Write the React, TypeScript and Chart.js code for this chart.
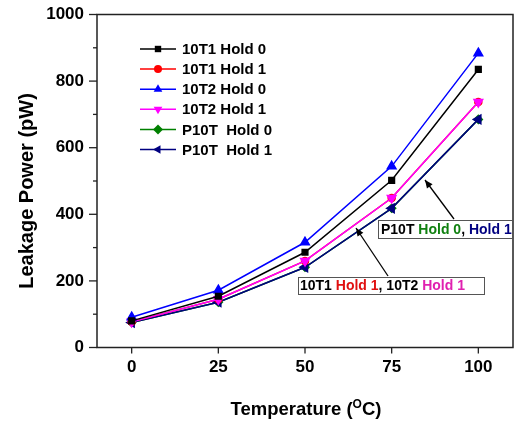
import React, { useEffect, useRef } from 'react';
import { Chart, registerables } from 'chart.js';
Chart.register(...registerables);

const temperatures = [0, 25, 50, 75, 100];
const t1Hold0 = [80, 154, 286, 502, 835];
const t1Hold1 = [77, 145, 260, 449, 737];
const t2Hold0 = [91, 172, 316, 544, 884];
const t2Hold1 = [77, 145, 260, 449, 737];
const p10tHold0 = [75, 136, 241, 418, 685];
const p10tHold1 = [75, 136, 241, 418, 685];
const xTickValues = [0, 25, 50, 75, 100];
const yTickValues = [0, 100, 200, 300, 400, 500, 600, 700, 800, 900, 1000];
const seriesLabels = ['10T1 Hold 0', '10T1 Hold 1', '10T2 Hold 0', '10T2 Hold 1', 'P10T  Hold 0', 'P10T  Hold 1'];

const FONT = 'Arial, "Liberation Sans", sans-serif';

type Style = { color: string; pointStyle: string; rotation: number; radius: number; order: number };
const styles: Style[] = [
  { color: '#000000', pointStyle: 'rect', rotation: 0, radius: 4, order: 0 },
  { color: '#ff0000', pointStyle: 'circle', rotation: 0, radius: 3.5, order: 3 },
  { color: '#0000ff', pointStyle: 'triangle', rotation: 0, radius: 5, order: 1 },
  { color: '#ff00ff', pointStyle: 'triangle', rotation: 180, radius: 5, order: 2 },
  { color: '#008000', pointStyle: 'rectRot', rotation: 0, radius: 4, order: 5 },
  { color: '#000080', pointStyle: 'triangle', rotation: 270, radius: 5, order: 4 },
];
const legendRadius = [4, 4, 5, 5, 5, 5];
const seriesData = [t1Hold0, t1Hold1, t2Hold0, t2Hold1, p10tHold0, p10tHold1];

function drawRich(ctx: CanvasRenderingContext2D, x: number, y: number, parts: [string, string][]) {
  let cx = x;
  for (const [txt, col] of parts) {
    ctx.fillStyle = col;
    ctx.fillText(txt, cx, y);
    cx += ctx.measureText(txt).width;
  }
}

function arrow(ctx: CanvasRenderingContext2D, x1: number, y1: number, x2: number, y2: number) {
  ctx.save();
  ctx.strokeStyle = '#000';
  ctx.fillStyle = '#000';
  ctx.lineWidth = 1.3;
  ctx.beginPath();
  ctx.moveTo(x1, y1);
  ctx.lineTo(x2, y2);
  ctx.stroke();
  const a = Math.atan2(y2 - y1, x2 - x1);
  const L = 8, W = 3.5;
  ctx.beginPath();
  ctx.moveTo(x2, y2);
  ctx.lineTo(x2 - L * Math.cos(a) + W * Math.sin(a), y2 - L * Math.sin(a) - W * Math.cos(a));
  ctx.lineTo(x2 - L * Math.cos(a) - W * Math.sin(a), y2 - L * Math.sin(a) + W * Math.cos(a));
  ctx.closePath();
  ctx.fill();
  ctx.restore();
}

function drawPointSimple(ctx: CanvasRenderingContext2D, st: Style, r: number, x: number, y: number) {
  ctx.save();
  ctx.translate(x, y);
  ctx.rotate((st.rotation * Math.PI) / 180);
  ctx.beginPath();
  if (st.pointStyle === 'rect') {
    ctx.rect(-r * 0.8, -r * 0.8, r * 1.6, r * 1.6);
  } else if (st.pointStyle === 'circle') {
    ctx.arc(0, 0, r, 0, Math.PI * 2);
  } else if (st.pointStyle === 'rectRot') {
    ctx.moveTo(0, -r); ctx.lineTo(r, 0); ctx.lineTo(0, r); ctx.lineTo(-r, 0); ctx.closePath();
  } else {
    const h = r * 1.5;
    ctx.moveTo(0, -h * 2 / 3);
    ctx.lineTo(r * 0.87, h / 3);
    ctx.lineTo(-r * 0.87, h / 3);
    ctx.closePath();
  }
  ctx.fill();
  ctx.restore();
}

const decorPlugin = {
  id: 'decor',
  afterDraw(chart: any) {
    const ctx: CanvasRenderingContext2D = chart.ctx;
    const { left, right, top, bottom } = chart.chartArea;
    const xs = chart.scales.x;
    const ys = chart.scales.y;
    ctx.save();
    ctx.strokeStyle = '#222';
    ctx.lineWidth = 1.5;
    ctx.strokeRect(left, top, right - left, bottom - top);
    ctx.lineWidth = 1.3;
    for (const v of yTickValues) {
      const py = ys.getPixelForValue(v);
      const len = v % 200 === 0 ? 8 : 4;
      ctx.beginPath();
      ctx.moveTo(left - len, py);
      ctx.lineTo(left, py);
      ctx.stroke();
    }
    for (const v of xTickValues) {
      const px = xs.getPixelForValue(v);
      ctx.beginPath();
      ctx.moveTo(px, bottom);
      ctx.lineTo(px, bottom + 6);
      ctx.stroke();
    }
    ctx.fillStyle = '#000';
    ctx.textBaseline = 'alphabetic';
    const big = `bold 18.5px ${FONT}`;
    const small = `bold 12px ${FONT}`;
    const p1 = 'Temperature (';
    const sup = 'O';
    const p2 = 'C)';
    ctx.font = big;
    const w1 = ctx.measureText(p1).width;
    const w3 = ctx.measureText(p2).width;
    ctx.font = small;
    const w2 = ctx.measureText(sup).width;
    const total = w1 + w2 + w3;
    const tx = 306 - total / 2;
    const by = 415;
    ctx.font = big;
    ctx.fillText(p1, tx, by);
    ctx.font = small;
    ctx.fillText(sup, tx + w1, by - 7);
    ctx.font = big;
    ctx.fillText(p2, tx + w1 + w2, by);

    ctx.save();
    ctx.translate(27, 191);
    ctx.rotate(-Math.PI / 2);
    ctx.textAlign = 'center';
    ctx.textBaseline = 'middle';
    ctx.font = `bold 20px ${FONT}`;
    ctx.fillText('Leakage Power (pW)', 0, 0);
    ctx.restore();

    ctx.font = `bold 15px ${FONT}`;
    ctx.textBaseline = 'middle';
    ctx.textAlign = 'left';
    seriesLabels.forEach((lab, i) => {
      const y = 49 + i * 20.1;
      const st = styles[i];
      ctx.strokeStyle = st.color;
      ctx.lineWidth = 1.5;
      ctx.beginPath();
      ctx.moveTo(140, y);
      ctx.lineTo(176, y);
      ctx.stroke();
      ctx.fillStyle = st.color;
      drawPointSimple(ctx, st, legendRadius[i], 158, y);
      ctx.fillStyle = '#000';
      ctx.fillText(lab, 182, y + 1);
    });

    ctx.font = `bold 14px ${FONT}`;
    ctx.textBaseline = 'middle';
    ctx.fillStyle = '#fff';
    ctx.fillRect(378, 220, 134, 18);
    ctx.strokeStyle = '#555';
    ctx.lineWidth = 1;
    ctx.strokeRect(378.5, 220.5, 134, 18);
    drawRich(ctx, 381, 230, [['P10T ', '#000'], ['Hold 0', '#108010'], [', ', '#000'], ['Hold 1', '#000080']]);
    ctx.fillStyle = '#fff';
    ctx.fillRect(298, 277, 186, 17);
    ctx.strokeStyle = '#555';
    ctx.strokeRect(298.5, 277.5, 186, 17);
    drawRich(ctx, 300, 286.5, [['10T1 ', '#000'], ['Hold 1', '#e01010'], [', 10T2 ', '#000'], ['Hold 1', '#e020b0']]);
    arrow(ctx, 454, 219, 425, 180);
    arrow(ctx, 388, 276, 356, 228);
    ctx.restore();
  },
};

export default function App() {
  const ref = useRef<HTMLCanvasElement | null>(null);
  useEffect(() => {
    if (!ref.current) return;
    const chart = new Chart(ref.current, {
      type: 'line',
      data: {
        datasets: seriesLabels.map((label, i) => ({
          label,
          data: temperatures.map((t, j) => ({ x: t, y: seriesData[i][j] })),
          borderColor: styles[i].color,
          backgroundColor: styles[i].color,
          pointBackgroundColor: styles[i].color,
          pointBorderColor: styles[i].color,
          pointStyle: styles[i].pointStyle as any,
          rotation: styles[i].rotation,
          pointRadius: styles[i].radius,
          borderWidth: 1.5,
          order: styles[i].order,
          tension: 0,
        })),
      },
      options: {
        animation: false,
        responsive: false,
        maintainAspectRatio: false,
        layout: { autoPadding: false, padding: { top: 14.5, right: 4, left: 0, bottom: 0 } },
        plugins: { legend: { display: false }, tooltip: { enabled: false }, title: { display: false } },
        scales: {
          x: {
            type: 'linear',
            min: -10,
            max: 110,
            afterBuildTicks: (s: any) => { s.ticks = xTickValues.map((v) => ({ value: v })); },
            afterFit: (s: any) => { s.height = 75.5; s.paddingLeft = 0; s.paddingRight = 0; },
            grid: { display: false, drawTicks: false },
            border: { display: false },
            ticks: { color: '#000', font: { family: FONT, size: 17, weight: 'bold' }, padding: 10, maxRotation: 0 },
          },
          y: {
            type: 'linear',
            min: 0,
            max: 1000,
            afterBuildTicks: (s: any) => { s.ticks = yTickValues.map((v) => ({ value: v })); },
            afterFit: (s: any) => { s.width = 97; s.paddingTop = 0; s.paddingBottom = 0; },
            grid: { display: false, drawTicks: false },
            border: { display: false },
            ticks: {
              color: '#000',
              font: { family: FONT, size: 17, weight: 'bold' },
              padding: 13,
              callback: (v: any) => (Number(v) % 200 === 0 ? String(v) : ''),
            },
          },
        },
      } as any,
      plugins: [decorPlugin],
    });
    return () => chart.destroy();
  }, []);
  return (
    <div style={{ position: 'absolute', left: 0, top: 0, width: 517, height: 423, background: '#fff' }}>
      <canvas ref={ref} width={517} height={423} style={{ width: 517, height: 423 }} />
    </div>
  );
}
